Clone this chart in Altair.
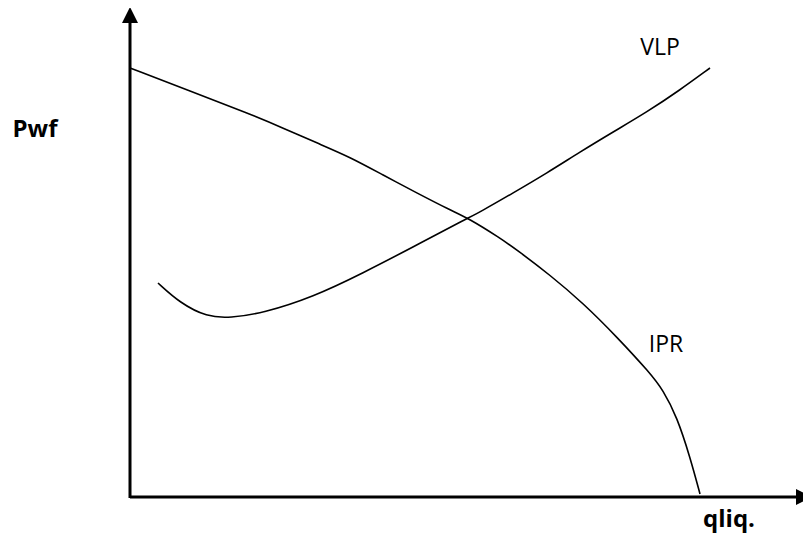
import altair as alt
import pandas as pd

# IPR curve (q, Pwf) in arbitrary schematic units
ipr_q = [0, 60, 120, 153, 187, 220, 253, 287, 320, 338, 370, 387, 420, 453, 487, 520, 533, 547, 560, 570]
ipr_p = [429, 406, 383, 369, 354, 340, 322, 304, 287, 279, 259, 247, 222, 194, 160, 124, 107, 80, 40, 3]

# VLP curve
vlp_q = [28, 50, 77, 100, 133, 183, 233, 283, 338, 350, 383, 417, 450, 483, 517, 550, 580]
vlp_p = [214, 194, 180, 179, 184, 200, 224, 250, 279, 285, 304, 324, 345, 365, 385, 407, 429]

labels = ["Pwf", "qliq.", "VLP", "IPR"]
label_q = [-95, 599, 530, 536]
label_p = [360, -30, 442, 145]
label_bold = [True, True, False, False]

ipr = pd.DataFrame({"q": ipr_q, "p": ipr_p})
vlp = pd.DataFrame({"q": vlp_q, "p": vlp_p})
lab = pd.DataFrame({"text": labels, "q": label_q, "p": label_p, "bold": label_bold})

xs = alt.Scale(domain=[-122, 673], nice=False, zero=False)
ys = alt.Scale(domain=[-36, 489], nice=False, zero=False)
X = lambda f="q": alt.X(f, type="quantitative", scale=xs, axis=None)
Y = lambda f="p": alt.Y(f, type="quantitative", scale=ys, axis=None)

axes_df = pd.DataFrame({"q": [0, 0], "p": [-1, 0], "q2": [0, 666], "p2": [474, 0]})
axis_lines = alt.Chart(axes_df).mark_rule(color="black", strokeWidth=3).encode(
    x=X(), y=Y(), x2="q2", y2="p2"
)

up = alt.Chart(pd.DataFrame({"q": [0], "p": [482]})).mark_point(
    shape="M0,-1L1,1L-1,1Z", filled=True, color="black", size=256, opacity=1
).encode(x=X(), y=Y())
right = alt.Chart(pd.DataFrame({"q": [674], "p": [0]})).mark_point(
    shape="M1,0L-1,1L-1,-1Z", filled=True, color="black", size=256, opacity=1
).encode(x=X(), y=Y())

ipr_line = alt.Chart(ipr).mark_line(color="black", strokeWidth=1.6, interpolate="basis").encode(
    x=X(), y=Y(), order="q:Q"
)
vlp_line = alt.Chart(vlp).mark_line(color="black", strokeWidth=1.6, interpolate="basis").encode(
    x=X(), y=Y(), order="q:Q"
)

bold_text = alt.Chart(lab[lab.bold]).mark_text(
    font="Open Sans", fontSize=24, fontWeight="bold", align="center", baseline="alphabetic", color="black"
).encode(x=X(), y=Y(), text="text")
reg_text = alt.Chart(lab[~lab.bold]).mark_text(
    font="Open Sans", fontSize=23, align="center", baseline="alphabetic", color="black"
).encode(x=X(), y=Y(), text="text")

chart = alt.layer(axis_lines, up, right, ipr_line, vlp_line, bold_text, reg_text).properties(
    width=795, height=525, autosize=alt.AutoSizeParams(type="none"), padding=0
).configure_view(stroke=None)

chart.save("out.html", embed_options={"renderer": "svg", "actions": False})
